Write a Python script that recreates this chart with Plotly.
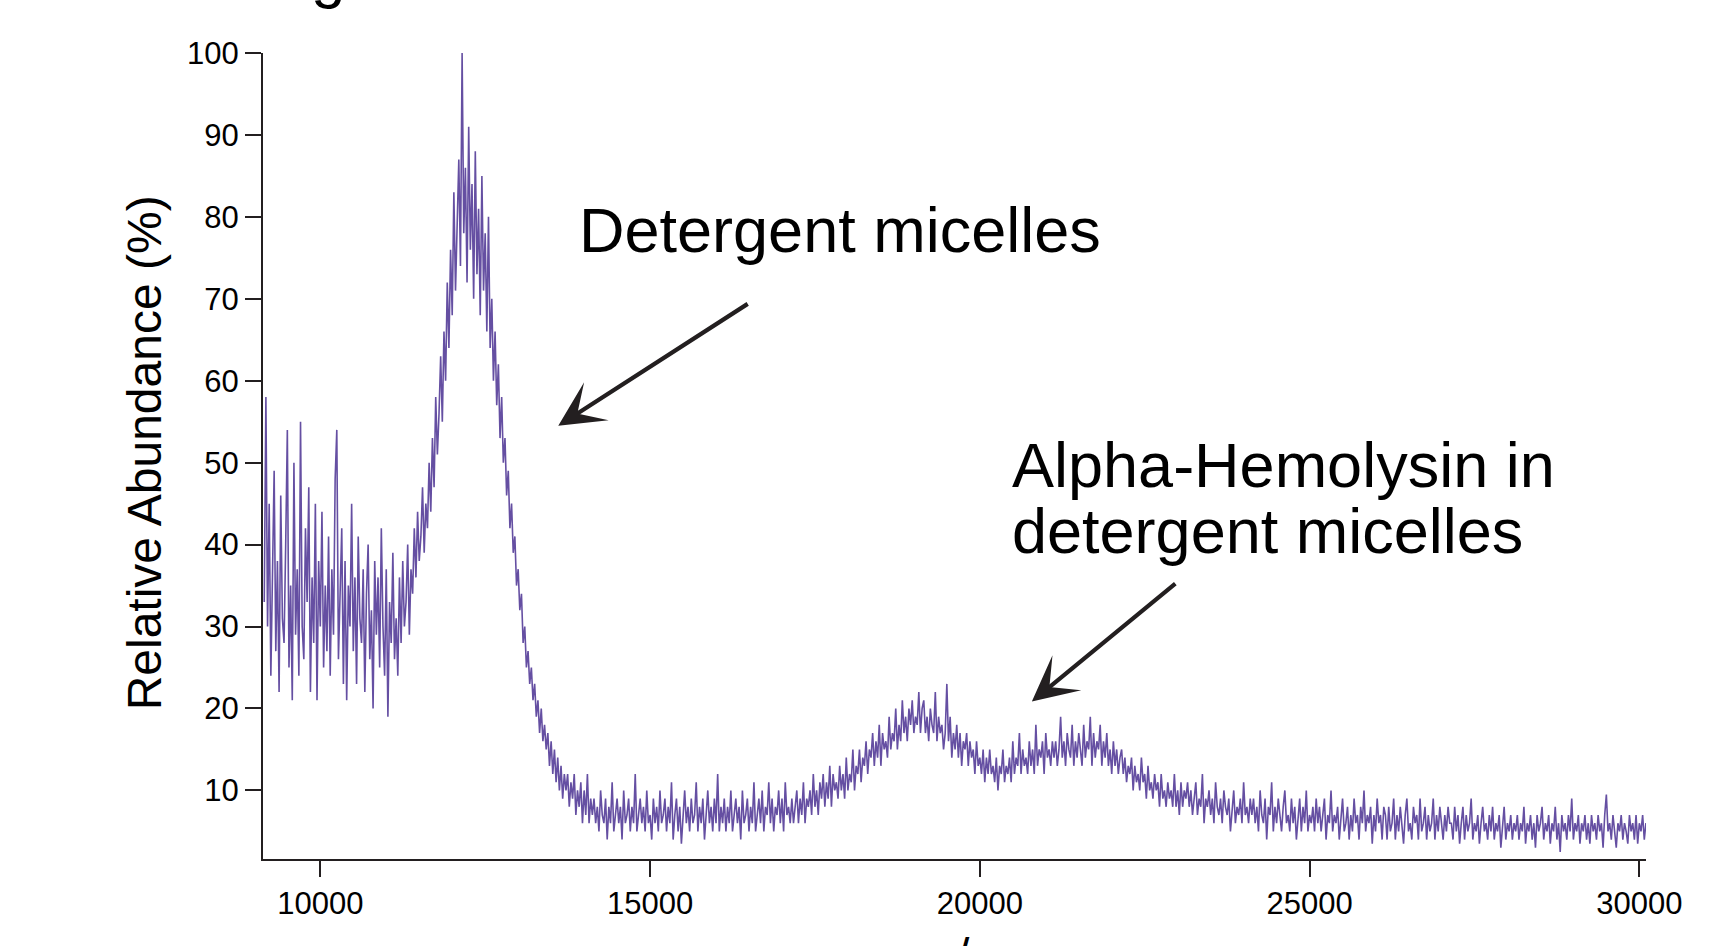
import plotly.graph_objects as go

# Native MS spectrum of detergent micelles and alpha-hemolysin
MZ_START = 9150
MZ_STEP = 25

abundance = [
    # 9150 - 10125
    33, 58, 30, 45, 24, 36, 49, 27, 38, 22, 46, 31, 28, 40, 54, 25, 35, 21, 50, 29,
    37, 24, 55, 30, 26, 42, 33, 47, 22, 36, 28, 45, 21, 38, 30, 44, 25, 35, 27, 41,
    # 10150 - 11125
    24, 37, 29, 48, 54, 26, 33, 42, 23, 38, 21, 35, 30, 45, 27, 36, 23, 41, 31, 28,
    37, 22, 34, 40, 26, 32, 20, 38, 29, 36, 25, 42, 30, 24, 37, 19, 33, 28, 39, 26,
    # 11150 - 12125
    31, 24, 36, 28, 38, 30, 33, 40, 29, 37, 34, 42, 36, 44, 38, 41, 47, 39, 45, 42,
    50, 44, 53, 47, 58, 51, 56, 63, 55, 66, 60, 72, 64, 76, 68, 83, 71, 78, 87, 74,
    # 12150 - 13125
    100, 78, 86, 72, 91, 76, 84, 70, 88, 73, 81, 68, 85, 71, 78, 66, 80, 64, 70, 60,
    66, 57, 62, 53, 58, 50, 53, 46, 49, 42, 45, 39, 41, 35, 37, 32, 34, 28, 30, 25,
    # 13150 - 14125
    27, 23, 25, 21, 23, 19, 21, 17, 20, 16, 18, 15, 17, 13, 16, 12, 15, 11, 14, 10,
    13, 9, 12, 10, 12, 8, 11, 9, 12, 7, 10, 8, 11, 6, 10, 7, 12, 6, 9, 7,
    # 14150 - 15125
    9, 6, 8, 5, 10, 7, 6, 9, 4, 8, 6, 11, 5, 7, 9, 6, 8, 4, 10, 6,
    7, 9, 5, 8, 6, 12, 5, 7, 9, 6, 8, 5, 10, 6, 7, 4, 9, 6, 8, 5,
    # 15150 - 16125
    10, 6, 7, 9, 5, 8, 6, 11, 4, 7, 9, 5, 8, 3.5, 7, 10, 6, 8, 5, 9,
    6, 7, 11, 5, 8, 6, 9, 4, 7, 10, 6, 8, 5, 9, 6, 12, 5, 8, 6, 9,
    # 16150 - 17125
    5, 8, 6, 10, 5, 7, 9, 6, 8, 4, 10, 6, 7, 9, 5, 8, 6, 11, 5, 7,
    9, 6, 10, 5, 8, 7, 11, 6, 9, 5, 8, 7, 10, 6, 9, 5, 11, 7, 8, 6,
    # 17150 - 18125
    9, 6, 8, 10, 6, 9, 7, 11, 6, 9, 8, 10, 7, 12, 8, 10, 7, 11, 9, 12,
    8, 11, 9, 13, 8, 12, 10, 11, 9, 13, 10, 12, 9, 14, 10, 12, 11, 15, 10, 13,
    # 18150 - 19125
    12, 15, 11, 14, 13, 16, 12, 15, 14, 17, 13, 16, 14, 18, 13, 17, 15, 16, 14, 19,
    15, 17, 16, 20, 15, 18, 16, 21, 17, 19, 16, 20, 18, 21, 17, 19, 18, 22, 17, 20,
    # 19150 - 20125
    21, 17, 19, 16, 20, 18, 17, 22, 16, 19, 17, 18, 15, 17, 23, 16, 19, 14, 17, 15,
    18, 14, 17, 13, 16, 15, 17, 13, 16, 14, 15, 12, 16, 13, 14, 12, 15, 11, 14, 12,
    # 20150 - 21125
    15, 12, 13, 11, 14, 10, 13, 12, 15, 11, 13, 12, 14, 11, 16, 12, 14, 13, 17, 12,
    15, 13, 14, 12, 16, 13, 15, 12, 18, 13, 15, 14, 16, 12, 17, 14, 15, 13, 16, 14,
    # 21150 - 22125
    16, 13, 15, 19, 14, 16, 13, 17, 15, 14, 18, 13, 16, 14, 17, 15, 13, 18, 14, 16,
    15, 19, 13, 17, 14, 16, 15, 18, 13, 16, 14, 17, 13, 15, 12, 16, 13, 15, 12, 14,
    # 22150 - 23125
    15, 12, 14, 11, 13, 12, 14, 10, 13, 11, 12, 10, 14, 11, 12, 9, 13, 10, 11, 9,
    12, 10, 11, 8, 12, 9, 10, 8, 11, 9, 10, 8, 12, 8, 10, 7, 11, 8, 10, 9,
    # 23150 - 24125
    11, 8, 10, 7, 9, 11, 7, 9, 8, 12, 6, 9, 8, 10, 7, 9, 6, 11, 8, 7,
    9, 6, 10, 8, 7, 9, 5, 8, 10, 6, 8, 7, 9, 6, 11, 7, 8, 6, 9, 7,
    # 24150 - 25125
    9, 6, 8, 5, 10, 7, 6, 9, 4, 8, 7, 11, 5, 8, 6, 9, 7, 5, 8, 10,
    6, 7, 5, 9, 6, 8, 4, 7, 9, 5, 8, 6, 10, 5, 7, 6, 8, 5, 9, 6,
    # 25150 - 26125
    8, 5, 7, 9, 4, 7, 6, 10, 5, 7, 6, 8, 4, 7, 9, 5, 6, 8, 4, 7,
    5, 9, 6, 7, 4, 8, 6, 10, 5, 7, 6, 8, 3.5, 7, 5, 9, 6, 7, 4, 8,
    # 26150 - 27125
    7, 4, 8, 5, 6, 9, 4, 7, 5, 8, 6, 3.5, 7, 9, 5, 6, 4, 8, 6, 7,
    4, 9, 5, 6, 8, 4, 7, 5, 6, 9, 4, 7, 5, 8, 6, 4, 7, 5, 8, 6,
    # 27150 - 28125
    6, 4, 8, 5, 7, 3.5, 6, 8, 4, 7, 5, 6, 9, 4, 6, 5, 7, 3.5, 6, 8,
    5, 6, 4, 7, 5, 8, 4, 6, 5, 7, 3, 6, 8, 4, 6, 5, 7, 4, 6, 5,
    # 28150 - 29125
    7, 4, 6, 5, 8, 3.5, 6, 5, 7, 4, 6, 3, 7, 5, 6, 8, 4, 6, 5, 7,
    3.5, 6, 5, 8, 4, 6, 2.5, 7, 5, 6, 4, 7, 5, 9, 4, 6, 5, 7, 3.5, 6,
    # 29150 - 30125
    5, 7, 4, 6, 3.5, 7, 5, 6, 4, 7, 5, 6, 3, 7, 9.5, 5, 6, 4, 7, 5,
    3, 6, 5, 7, 4, 6, 5, 3.5, 7, 5, 6, 4, 7, 3.5, 6, 5, 7, 4, 6, 5,
]
mz = [MZ_START + MZ_STEP * i for i in range(len(abundance))]

x_tickvals = [10000, 15000, 20000, 25000, 30000]
x_ticktext = ["10000", "15000", "20000", "25000", "30000"]
y_tickvals = [10, 20, 30, 40, 50, 60, 70, 80, 90, 100]
y_ticktext = ["10", "20", "30", "40", "50", "60", "70", "80", "90", "100"]

# Arrow tips and tails in data units (m/z, %)
micelle_tip = (13608, 54.5)
micelle_tail = (16503, 69.5)
complex_tip = (20789, 20.85)
complex_tail = (22987, 35.4)

FONT = "Liberation Sans, Arial, Helvetica, sans-serif"
INK = "#231F20"
TRACE = "#654FA2"

fig = go.Figure()
fig.add_trace(go.Scatter(
    x=mz, y=abundance, mode="lines",
    line=dict(color=TRACE, width=1.6),
    hoverinfo="skip", showlegend=False,
))

axis_common = dict(
    showgrid=False, zeroline=False, showline=True,
    linecolor=INK, linewidth=2,
    ticks="outside", ticklen=16, tickwidth=2, tickcolor=INK,
    tickfont=dict(family=FONT, size=31, color="black"),
)
fig.update_xaxes(range=[9131, 30101], tickmode="array",
                 tickvals=x_tickvals, ticktext=x_ticktext, **axis_common)
fig.update_yaxes(range=[1.63, 100], tickmode="array",
                 tickvals=y_tickvals, ticktext=y_ticktext, **axis_common)

annotations = [
    # axis title
    dict(text="Relative Abundance (%)", textangle=-90, x=-0.0858, y=0.5037,
         xref="paper", yref="paper", xanchor="center", yanchor="middle",
         showarrow=False, font=dict(family=FONT, size=48, color="black")),
    # peak labels
    dict(text="Detergent micelles", x=0.2274, y=0.7798,
         xref="paper", yref="paper", xanchor="left", yanchor="middle",
         showarrow=False, font=dict(family=FONT, size=63, color="black")),
    dict(text="Alpha-Hemolysin in", x=0.540, y=0.4891,
         xref="paper", yref="paper", xanchor="left", yanchor="middle",
         showarrow=False, font=dict(family=FONT, size=63, color="black")),
    dict(text="detergent micelles", x=0.540, y=0.4068,
         xref="paper", yref="paper", xanchor="left", yanchor="middle",
         showarrow=False, font=dict(family=FONT, size=63, color="black")),
    # arrows
    dict(x=micelle_tip[0], y=micelle_tip[1], ax=micelle_tail[0], ay=micelle_tail[1],
         xref="x", yref="y", axref="x", ayref="y", text="", showarrow=True,
         arrowhead=3, arrowwidth=4.2, arrowsize=1.8, arrowcolor=INK),
    dict(x=complex_tip[0], y=complex_tip[1], ax=complex_tail[0], ay=complex_tail[1],
         xref="x", yref="y", axref="x", ayref="y", text="", showarrow=True,
         arrowhead=3, arrowwidth=4.2, arrowsize=1.8, arrowcolor=INK),
    # neighbouring panel title and x-axis title, running off the page edges
    dict(text="g", x=0.0470, y=1.0521, xref="paper", yref="paper",
         xanchor="center", yanchor="bottom", showarrow=False,
         font=dict(family=FONT, size=62, color="black")),
    dict(text="m/z", x=0.5, y=-0.1196, xref="paper", yref="paper",
         xanchor="center", yanchor="middle", showarrow=False,
         font=dict(family=FONT, size=48, color="black")),
]

fig.update_layout(
    width=1733, height=946,
    margin=dict(l=263, r=87, t=53, b=87, autoexpand=False),
    paper_bgcolor="white", plot_bgcolor="white",
    annotations=annotations,
    font=dict(family=FONT, color="black"),
)

fig.write_html("out.html", config={"displayModeBar": False})
